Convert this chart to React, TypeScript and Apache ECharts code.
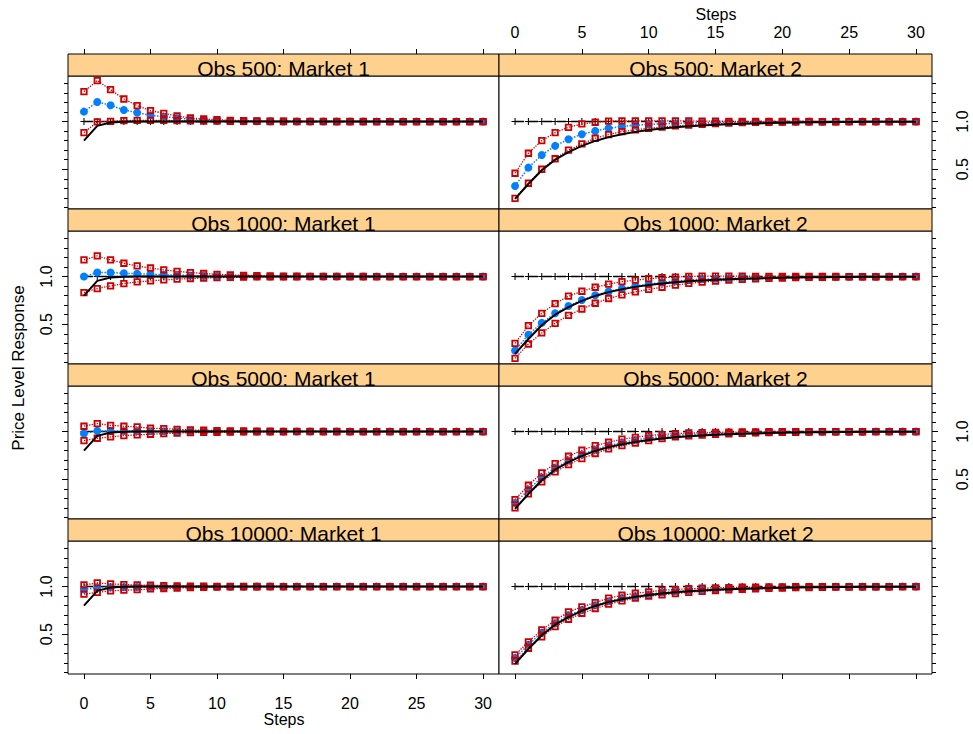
import React, { useEffect, useRef } from "react";
import * as echarts from "echarts";

// ---------------- data ----------------
const steps = [0, 1, 2, 3, 4, 5, 6, 7, 8, 9, 10, 11, 12, 13, 14, 15, 16, 17, 18, 19, 20, 21, 22, 23, 24, 25, 26, 27, 28, 29, 30];
const stepTicks = [0, 5, 10, 15, 20, 25, 30];
const yMajorTicks = [0.5, 1.0];
const yMinorTicks = [0.1, 0.2, 0.3, 0.4, 0.5, 0.6, 0.7, 0.8, 0.9, 1.0, 1.1, 1.2, 1.3, 1.4];
const obsLevels = ["500", "1000", "5000", "10000"];
const markets = ["Market 1", "Market 2"];

const refLevel = [
  1, 1, 1, 1, 1, 1, 1, 1, 1, 1,
  1, 1, 1, 1, 1, 1, 1, 1, 1, 1,
  1, 1, 1, 1, 1, 1, 1, 1, 1, 1,
  1];

const trueMarket1 = [
  0.800, 0.955, 0.990, 0.998, 1.000, 1.000, 1.000, 1.000, 1.000, 1.000,
  1.000, 1.000, 1.000, 1.000, 1.000, 1.000, 1.000, 1.000, 1.000, 1.000,
  1.000, 1.000, 1.000, 1.000, 1.000, 1.000, 1.000, 1.000, 1.000, 1.000,
  1.000];
const trueMarket2 = [
  0.190, 0.345, 0.490, 0.600, 0.680, 0.745, 0.797, 0.837, 0.868, 0.892,
  0.912, 0.927, 0.940, 0.950, 0.959, 0.966, 0.972, 0.977, 0.981, 0.985,
  0.988, 0.990, 0.992, 0.994, 0.995, 0.996, 0.997, 0.998, 0.998, 0.999,
  0.999];

// Obs 500, Market 1
const o500m1Mean = [
  1.104, 1.206, 1.171, 1.122, 1.094, 1.066, 1.052, 1.038, 1.024, 1.017,
  1.010, 1.006, 1.004, 1.003, 1.002, 1.001, 1.001, 1.000, 1.000, 1.000,
  1.000, 1.000, 1.000, 1.000, 1.000, 1.000, 1.000, 1.000, 1.000, 1.000,
  1.000];
const o500m1Upper = [
  1.314, 1.430, 1.335, 1.237, 1.167, 1.115, 1.087, 1.059, 1.038, 1.027,
  1.020, 1.013, 1.010, 1.007, 1.005, 1.004, 1.003, 1.002, 1.002, 1.001,
  1.001, 1.001, 1.000, 1.000, 1.000, 1.000, 1.000, 1.000, 1.000, 1.000,
  1.000];
const o500m1Lower = [
  0.884, 0.996, 1.003, 1.010, 1.012, 1.013, 1.012, 1.010, 1.008, 1.006,
  1.004, 1.003, 1.002, 1.002, 1.001, 1.001, 1.000, 1.000, 1.000, 1.000,
  1.000, 1.000, 1.000, 1.000, 1.000, 1.000, 1.000, 1.000, 1.000, 1.000,
  1.000];

// Obs 1000, Market 1
const o1000m1Mean = [
  1.000, 1.042, 1.042, 1.035, 1.030, 1.025, 1.020, 1.015, 1.011, 1.008,
  1.006, 1.004, 1.003, 1.002, 1.001, 1.001, 1.000, 1.000, 1.000, 1.000,
  1.000, 1.000, 1.000, 1.000, 1.000, 1.000, 1.000, 1.000, 1.000, 1.000,
  1.000];
const o1000m1Upper = [
  1.175, 1.217, 1.175, 1.140, 1.112, 1.090, 1.070, 1.055, 1.042, 1.032,
  1.024, 1.018, 1.013, 1.010, 1.007, 1.005, 1.004, 1.003, 1.002, 1.002,
  1.001, 1.001, 1.000, 1.000, 1.000, 1.000, 1.000, 1.000, 1.000, 1.000,
  1.000];
const o1000m1Lower = [
  0.832, 0.874, 0.902, 0.927, 0.944, 0.955, 0.965, 0.973, 0.980, 0.985,
  0.989, 0.992, 0.994, 0.996, 0.997, 0.998, 0.998, 0.999, 0.999, 1.000,
  1.000, 1.000, 1.000, 1.000, 1.000, 1.000, 1.000, 1.000, 1.000, 1.000,
  1.000];

// Obs 5000, Market 1
const o5000m1Mean = [
  0.979, 1.007, 1.007, 1.006, 1.005, 1.004, 1.004, 1.003, 1.003, 1.002,
  1.002, 1.001, 1.001, 1.001, 1.000, 1.000, 1.000, 1.000, 1.000, 1.000,
  1.000, 1.000, 1.000, 1.000, 1.000, 1.000, 1.000, 1.000, 1.000, 1.000,
  1.000];
const o5000m1Upper = [
  1.056, 1.084, 1.066, 1.056, 1.049, 1.035, 1.031, 1.024, 1.017, 1.014,
  1.010, 1.008, 1.006, 1.005, 1.004, 1.003, 1.002, 1.002, 1.001, 1.001,
  1.000, 1.000, 1.000, 1.000, 1.000, 1.000, 1.000, 1.000, 1.000, 1.000,
  1.000];
const o5000m1Lower = [
  0.906, 0.930, 0.944, 0.958, 0.965, 0.972, 0.979, 0.984, 0.988, 0.991,
  0.993, 0.995, 0.996, 0.997, 0.998, 0.998, 0.999, 0.999, 1.000, 1.000,
  1.000, 1.000, 1.000, 1.000, 1.000, 1.000, 1.000, 1.000, 1.000, 1.000,
  1.000];

// Obs 10000, Market 1
const o10000m1Mean = [
  0.969, 0.990, 0.992, 0.993, 0.994, 0.995, 0.996, 0.997, 0.997, 0.998,
  0.998, 0.999, 0.999, 1.000, 1.000, 1.000, 1.000, 1.000, 1.000, 1.000,
  1.000, 1.000, 1.000, 1.000, 1.000, 1.000, 1.000, 1.000, 1.000, 1.000,
  1.000];
const o10000m1Upper = [
  1.017, 1.038, 1.028, 1.021, 1.017, 1.014, 1.010, 1.007, 1.005, 1.004,
  1.003, 1.002, 1.002, 1.001, 1.001, 1.000, 1.000, 1.000, 1.000, 1.000,
  1.000, 1.000, 1.000, 1.000, 1.000, 1.000, 1.000, 1.000, 1.000, 1.000,
  1.000];
const o10000m1Lower = [
  0.920, 0.940, 0.955, 0.962, 0.967, 0.975, 0.980, 0.985, 0.989, 0.992,
  0.994, 0.996, 0.997, 0.998, 0.999, 0.999, 1.000, 1.000, 1.000, 1.000,
  1.000, 1.000, 1.000, 1.000, 1.000, 1.000, 1.000, 1.000, 1.000, 1.000,
  1.000];

// Obs 500, Market 2
const o500m2Mean = [
  0.325, 0.517, 0.650, 0.745, 0.815, 0.867, 0.902, 0.930, 0.948, 0.962,
  0.970, 0.976, 0.982, 0.986, 0.989, 0.992, 0.994, 0.995, 0.996, 0.997,
  0.998, 0.998, 0.999, 0.999, 1.000, 1.000, 1.000, 1.000, 1.000, 1.000,
  1.000];
const o500m2Upper = [
  0.458, 0.668, 0.800, 0.885, 0.940, 0.975, 0.993, 1.005, 1.008, 1.008,
  1.008, 1.007, 1.007, 1.006, 1.005, 1.004, 1.003, 1.003, 1.002, 1.002,
  1.001, 1.001, 1.001, 1.000, 1.000, 1.000, 1.000, 1.000, 1.000, 1.000,
  1.000];
const o500m2Lower = [
  0.195, 0.353, 0.500, 0.610, 0.700, 0.766, 0.825, 0.864, 0.895, 0.913,
  0.930, 0.943, 0.955, 0.963, 0.972, 0.979, 0.984, 0.988, 0.991, 0.993,
  0.995, 0.996, 0.997, 0.998, 0.998, 0.999, 0.999, 1.000, 1.000, 1.000,
  1.000];

// Obs 1000, Market 2
const o1000m2Mean = [
  0.224, 0.390, 0.514, 0.615, 0.692, 0.755, 0.804, 0.843, 0.875, 0.900,
  0.920, 0.938, 0.953, 0.964, 0.972, 0.978, 0.983, 0.987, 0.990, 0.992,
  0.994, 0.995, 0.996, 0.997, 0.998, 0.998, 0.999, 0.999, 1.000, 1.000,
  1.000];
const o1000m2Upper = [
  0.300, 0.486, 0.615, 0.717, 0.794, 0.846, 0.888, 0.920, 0.948, 0.962,
  0.978, 0.988, 0.995, 1.002, 1.004, 1.005, 1.004, 1.004, 1.003, 1.003,
  1.002, 1.002, 1.001, 1.001, 1.001, 1.000, 1.000, 1.000, 1.000, 1.000,
  1.000];
const o1000m2Lower = [
  0.143, 0.293, 0.409, 0.510, 0.594, 0.660, 0.720, 0.770, 0.808, 0.840,
  0.865, 0.888, 0.910, 0.928, 0.942, 0.953, 0.962, 0.970, 0.976, 0.981,
  0.985, 0.988, 0.991, 0.993, 0.995, 0.996, 0.997, 0.998, 0.998, 0.999,
  0.999];

// Obs 5000, Market 2
const o5000m2Mean = [
  0.250, 0.390, 0.520, 0.620, 0.696, 0.760, 0.810, 0.853, 0.885, 0.912,
  0.932, 0.948, 0.960, 0.969, 0.976, 0.982, 0.986, 0.989, 0.992, 0.994,
  0.995, 0.996, 0.997, 0.998, 0.998, 0.999, 0.999, 1.000, 1.000, 1.000,
  1.000];
const o5000m2Upper = [
  0.287, 0.437, 0.566, 0.664, 0.741, 0.804, 0.853, 0.888, 0.920, 0.940,
  0.958, 0.969, 0.979, 0.985, 0.989, 0.992, 0.994, 0.996, 0.997, 0.998,
  0.999, 0.999, 1.000, 1.000, 1.000, 1.000, 1.000, 1.000, 1.000, 1.000,
  1.000];
const o5000m2Lower = [
  0.200, 0.346, 0.472, 0.577, 0.654, 0.717, 0.770, 0.818, 0.853, 0.880,
  0.905, 0.926, 0.944, 0.955, 0.964, 0.971, 0.977, 0.982, 0.986, 0.989,
  0.991, 0.993, 0.995, 0.996, 0.997, 0.998, 0.998, 0.999, 0.999, 1.000,
  1.000];

// Obs 10000, Market 2
const o10000m2Mean = [
  0.250, 0.390, 0.517, 0.615, 0.700, 0.755, 0.804, 0.846, 0.880, 0.900,
  0.920, 0.937, 0.948, 0.958, 0.966, 0.973, 0.979, 0.983, 0.987, 0.990,
  0.992, 0.994, 0.995, 0.996, 0.997, 0.998, 0.998, 0.999, 0.999, 1.000,
  1.000];
const o10000m2Upper = [
  0.283, 0.420, 0.545, 0.647, 0.734, 0.787, 0.832, 0.878, 0.909, 0.930,
  0.944, 0.962, 0.969, 0.977, 0.983, 0.987, 0.990, 0.993, 0.995, 0.996,
  0.997, 0.998, 0.999, 0.999, 1.000, 1.000, 1.000, 1.000, 1.000, 1.000,
  1.000];
const o10000m2Lower = [
  0.217, 0.353, 0.472, 0.580, 0.657, 0.720, 0.770, 0.815, 0.850, 0.878,
  0.900, 0.913, 0.927, 0.940, 0.950, 0.959, 0.966, 0.972, 0.977, 0.981,
  0.985, 0.988, 0.990, 0.992, 0.994, 0.995, 0.996, 0.997, 0.998, 0.999,
  0.999];

const panelData = [
  [
    { mean: o500m1Mean, upper: o500m1Upper, lower: o500m1Lower, truth: trueMarket1 },
    { mean: o500m2Mean, upper: o500m2Upper, lower: o500m2Lower, truth: trueMarket2 },
  ],
  [
    { mean: o1000m1Mean, upper: o1000m1Upper, lower: o1000m1Lower, truth: trueMarket1 },
    { mean: o1000m2Mean, upper: o1000m2Upper, lower: o1000m2Lower, truth: trueMarket2 },
  ],
  [
    { mean: o5000m1Mean, upper: o5000m1Upper, lower: o5000m1Lower, truth: trueMarket1 },
    { mean: o5000m2Mean, upper: o5000m2Upper, lower: o5000m2Lower, truth: trueMarket2 },
  ],
  [
    { mean: o10000m1Mean, upper: o10000m1Upper, lower: o10000m1Lower, truth: trueMarket1 },
    { mean: o10000m2Mean, upper: o10000m2Upper, lower: o10000m2Lower, truth: trueMarket2 },
  ],
];

// ---------------- layout & style ----------------
const FONT = "'Liberation Sans', Arial, Helvetica, sans-serif";
const COL_LEFT = [68, 499];
const COL_WIDTH = [431, 433];
const PLOT_TOP0 = 76;
const ROW_STEP = 155;
const PLOT_H = 133;
const STRIP_H = 22;
const STRIP_FILL = "#FFD18F";
const X_MIN = -1.2;
const X_MAX = 31.2;
const Y_MIN = 0.083;
const Y_MAX = 1.478;
const BLUE = "#0080ff";
const RED = "#cc0000";
const PLUS = "path://M-0.6,-4H0.6V-0.6H4V0.6H0.6V4H-0.6V0.6H-4V-0.6H-0.6Z";

const pairs = (ys: number[]) => steps.map((s, i) => [s, ys[i]]);

function buildOption() {
  const grid: any[] = [];
  const xAxis: any[] = [];
  const yAxis: any[] = [];
  const series: any[] = [];
  const graphic: any[] = [];

  for (let r = 0; r < 4; r++) {
    for (let c = 0; c < 2; c++) {
      const gi = grid.length;
      const left = COL_LEFT[c];
      const width = COL_WIDTH[c];
      const top = PLOT_TOP0 + r * ROW_STEP;
      grid.push({
        left, top, width, height: PLOT_H,
        show: true, borderColor: "#000", borderWidth: 1, backgroundColor: "#fff",
      });

      const xTicks = r === 0 || r === 3;
      const xLabels = (r === 0 && c === 1) || (r === 3 && c === 0);
      xAxis.push({
        type: "value", gridIndex: gi, min: X_MIN, max: X_MAX,
        position: r === 0 ? "top" : "bottom",
        offset: r === 0 ? STRIP_H : 0,
        axisLine: { show: false, onZero: false },
        splitLine: { show: false },
        axisTick: { show: xTicks, length: 5, customValues: stepTicks, lineStyle: { color: "#000", width: 1 } },
        axisLabel: {
          show: xLabels, customValues: stepTicks, fontSize: 16, fontFamily: FONT, color: "#000",
          margin: r === 0 ? 14 : 21,
        },
      });

      const yLabels = (c === 0 && (r === 1 || r === 3)) || (c === 1 && (r === 0 || r === 2));
      const yi = yAxis.length;
      yAxis.push({
        type: "value", gridIndex: gi, min: Y_MIN, max: Y_MAX,
        position: c === 0 ? "left" : "right",
        axisLine: { show: false, onZero: false },
        splitLine: { show: false },
        axisTick: { show: true, length: 6, customValues: yMajorTicks, lineStyle: { color: "#000", width: 1 } },
        axisLabel: {
          show: yLabels, customValues: yMajorTicks, rotate: 90, fontSize: 16, fontFamily: FONT, color: "#000",
          margin: c === 0 ? 14 : 22,
          formatter: (v: number) => v.toFixed(1),
        },
      });
      yAxis.push({
        type: "value", gridIndex: gi, min: Y_MIN, max: Y_MAX,
        position: c === 0 ? "left" : "right",
        axisLine: { show: false, onZero: false },
        splitLine: { show: false },
        axisTick: { show: true, length: 4, customValues: yMinorTicks, lineStyle: { color: "#000", width: 1 } },
        axisLabel: { show: false },
      });

      const d = panelData[r][c];
      const common = { xAxisIndex: gi, yAxisIndex: yi, silent: true };
      series.push({
        ...common, type: "line", data: pairs(refLevel),
        symbol: PLUS, symbolSize: 7,
        itemStyle: { color: "#000" },
        lineStyle: { color: "#000", width: 1.5, type: [9, 5] },
        z: 2,
      });
      series.push({
        ...common, type: "line", data: pairs(d.mean),
        symbol: "circle", symbolSize: 8,
        itemStyle: { color: BLUE },
        lineStyle: { color: BLUE, width: 1.5, type: "dotted" },
        z: 3,
      });
      series.push({
        ...common, type: "line", data: pairs(d.lower),
        symbol: "rect", symbolSize: 5.5,
        itemStyle: { color: "rgba(255,255,255,0)", borderColor: RED, borderWidth: 1.8 },
        lineStyle: { color: RED, width: 1.3, type: "dotted" },
        z: 4,
      });
      series.push({
        ...common, type: "line", data: pairs(d.upper),
        symbol: "rect", symbolSize: 5.5,
        itemStyle: { color: "rgba(255,255,255,0)", borderColor: RED, borderWidth: 1.8 },
        lineStyle: { color: RED, width: 1.3, type: "dotted" },
        z: 4,
      });
      series.push({
        ...common, type: "line", data: pairs(d.truth),
        symbol: "none",
        lineStyle: { color: "#000", width: 2, type: "solid" },
        z: 5,
      });

      const stripTop = top - STRIP_H;
      graphic.push({
        type: "rect", silent: true,
        shape: { x: left, y: stripTop, width, height: STRIP_H },
        style: { fill: STRIP_FILL, stroke: "#000", lineWidth: 1 },
        z: 10,
      });
      graphic.push({
        type: "text", silent: true,
        x: left + width / 2, y: stripTop + 14.5,
        style: {
          text: `Obs ${obsLevels[r]}: ${markets[c]}`,
          fontSize: 21, fontFamily: FONT, fill: "#000",
          align: "center", verticalAlign: "middle",
          textAlign: "center", textVerticalAlign: "middle",
        },
        z: 11,
      });
    }
  }

  graphic.push({
    type: "text", silent: true, x: 716, y: 14,
    style: { text: "Steps", fontSize: 16, fontFamily: FONT, fill: "#000", align: "center", verticalAlign: "middle", textAlign: "center", textVerticalAlign: "middle" },
  });
  graphic.push({
    type: "text", silent: true, x: 284, y: 719,
    style: { text: "Steps", fontSize: 16, fontFamily: FONT, fill: "#000", align: "center", verticalAlign: "middle", textAlign: "center", textVerticalAlign: "middle" },
  });
  graphic.push({
    type: "text", silent: true, x: 18, y: 368, rotation: Math.PI / 2,
    style: { text: "Price Level Response", fontSize: 17, fontFamily: FONT, fill: "#000", align: "center", verticalAlign: "middle", textAlign: "center", textVerticalAlign: "middle" },
  });

  return {
    animation: false,
    backgroundColor: "#fff",
    grid, xAxis, yAxis, series, graphic,
  };
}

export default function App() {
  const ref = useRef<HTMLDivElement>(null);
  useEffect(() => {
    if (!ref.current) return;
    const chart = echarts.init(ref.current, null, { renderer: "svg" });
    chart.setOption(buildOption() as any);
    return () => chart.dispose();
  }, []);
  return (
    <div
      ref={ref}
      style={{ position: "fixed", left: 0, top: 0, width: 973, height: 734, background: "#fff" }}
    />
  );
}
